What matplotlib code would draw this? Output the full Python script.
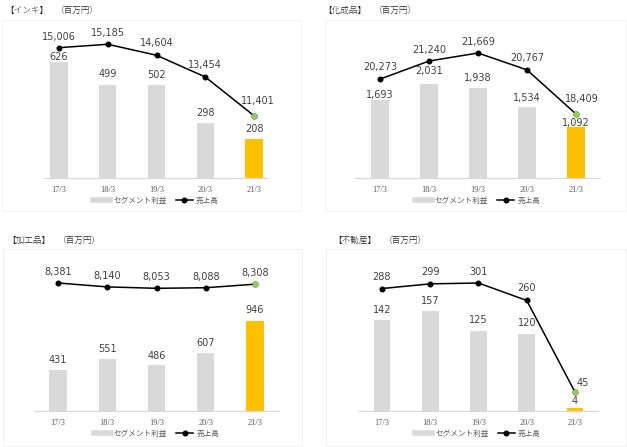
import matplotlib
matplotlib.use("Agg")
import matplotlib.pyplot as plt
from matplotlib.lines import Line2D
from matplotlib.patches import Rectangle

plt.rcParams['font.family'] = ['DejaVu Sans', 'Noto Sans CJK JP']

years = ['17/3', '18/3', '19/3', '20/3', '21/3']

ink_profit = [626, 499, 502, 298, 208]
ink_sales = [15006, 15185, 14604, 13454, 11401]

chem_profit = [1693, 2031, 1938, 1534, 1092]
chem_sales = [20273, 21240, 21669, 20767, 18409]

proc_profit = [431, 551, 486, 607, 946]
proc_sales = [8381, 8140, 8053, 8088, 8308]

estate_profit = [142, 157, 125, 120, 4]
estate_sales = [288, 299, 301, 260, 45]

titles = ['【インキ】', '【化成品】', '【加工品】', '【不動産】']

W, H = 627, 447
GRAY = '#D9D9D9'
ORANGE = '#FFC000'
GREEN = '#92D050'
TXT = '#404040'


def px_rect(l, t, r, b):
    return [l / W, 1 - b / H, (r - l) / W, (b - t) / H]


def panel(fig, rect, xlim, bar_top, line_lim, profit, sales, title, title_xy,
          bar_off, line_off, last_dx, box):
    # very light frame around each chart
    l, t, r, b = box
    fig.patches.append(Rectangle((l / W, 1 - b / H), (r - l) / W, (b - t) / H,
                                 transform=fig.transFigure, fill=False,
                                 edgecolor='#F2F2F2', lw=0.8))
    ax = fig.add_axes(px_rect(*rect))
    ax2 = ax.twinx()
    x = range(len(years))
    colors = [GRAY] * (len(years) - 1) + [ORANGE]
    ax.bar(x, profit, width=0.35, color=colors, zorder=1)
    ax.set_xlim(*xlim)
    ax.set_ylim(0, bar_top)
    ax2.set_ylim(*line_lim)
    ax2.plot(x, sales, color='black', lw=1.1, marker='o', ms=3.3, zorder=3)
    ax2.plot([len(years) - 1], [sales[-1]], 'o', color=GREEN, ms=3.3, zorder=4)

    for a in (ax, ax2):
        for s in a.spines.values():
            s.set_visible(False)
        a.set_yticks([])
    ax.spines['bottom'].set_visible(True)
    ax.spines['bottom'].set_color(GRAY)
    ax.spines['bottom'].set_linewidth(0.9)
    ax.set_xticks(list(x))
    ax.set_xticklabels(years, family='Liberation Serif', fontsize=6, color='#595959')
    ax.tick_params(axis='x', length=0, pad=6)
    ax.set_zorder(ax2.get_zorder() - 1)
    ax.patch.set_visible(False)

    for i, v in enumerate(profit):
        ax.annotate(f'{v:,}', (i, v), xytext=(0, bar_off[i] * 0.72),
                    textcoords='offset points', ha='center', va='center',
                    fontsize=7, color=TXT)
    for i, v in enumerate(sales):
        dx = last_dx if i == len(sales) - 1 else 0
        ax2.annotate(f'{v:,}', (i, v), xytext=(dx * 0.72, line_off[i] * 0.72),
                     textcoords='offset points', ha='center', va='center',
                     fontsize=7, color=TXT)

    handles = [Line2D([], [], color=GRAY, lw=4),
               Line2D([], [], color='black', lw=1.1, marker='o', ms=3.3)]
    ax.legend(handles, ['セグメント利益', '売上高'], loc='center',
              bbox_to_anchor=(0.5, -23 / (rect[3] - rect[1])), ncol=2,
              frameon=False, handlelength=2.2, columnspacing=1.2,
              handletextpad=0.4,
              prop={'family': 'Noto Sans CJK JP', 'size': 5.5},
              labelcolor='#595959')

    tx, ty = title_xy
    fig.text(tx / W, 1 - ty / H, title, family='Noto Sans CJK JP', fontsize=6.2,
             fontweight='light', color='#262626', va='center', ha='left')
    fig.text((tx + 51) / W, 1 - ty / H, '（百万円）', family='Noto Sans CJK JP',
             fontsize=6.2, fontweight='light', color='#262626', va='center',
             ha='left')


fig = plt.figure(figsize=(6.27, 4.47), dpi=100)

panel(fig, (44, 25, 268, 178), (-0.308, 4.287), 823.5, (8099, 16207),
      ink_profit, ink_sales, titles[0], (5, 10),
      [5, 11, 10, 10, 10], [11, 11.5, 12, 12, 15], 4, (2, 20, 301, 211))

panel(fig, (355, 25, 600, 178), (-0.51, 4.49), 3305, (14988, 23166),
      chem_profit, chem_sales, titles[1], (323, 10),
      [5, 13, 10, 9, 4.5], [12, 11, 11, 12, 15], 6, (325, 20, 626, 211))

panel(fig, (34, 240, 279, 411), (-0.487, 4.487), 1798, (479, 11035),
      proc_profit, proc_sales, titles[2], (7, 240),
      [10, 10, 9, 10, 11], [11, 11, 11, 11, 11], 0, (3, 249, 302, 446))

panel(fig, (358, 240, 598, 411), (-0.497, 4.477), 268, (0.4, 402),
      estate_profit, estate_sales, titles[3], (333, 240),
      [10, 10, 11, 11, 7], [12, 12, 11, 12, 9], 8, (326, 249, 626, 446))

fig.savefig('out.png', dpi=100)
